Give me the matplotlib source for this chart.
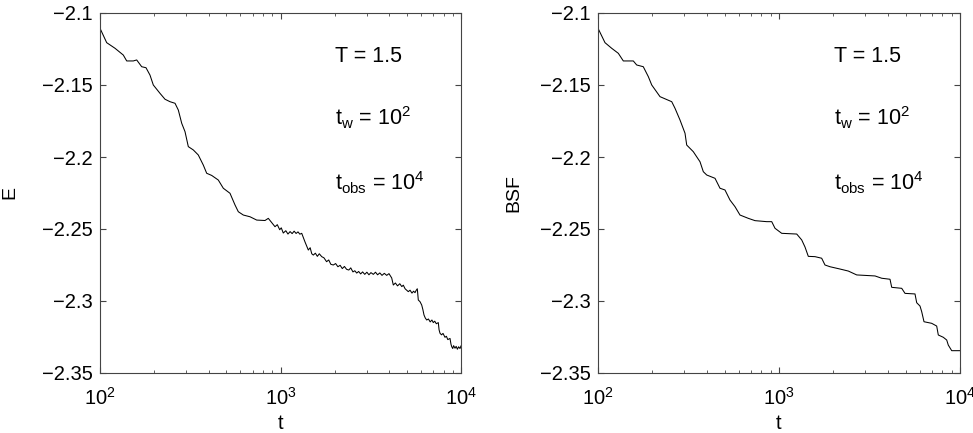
import matplotlib
matplotlib.use("Agg")
import matplotlib.pyplot as plt
from matplotlib.ticker import LogLocator, NullFormatter

plt.rcParams['font.family'] = ['Liberation Sans', 'DejaVu Sans']
plt.rcParams['mathtext.fontset'] = 'custom'
plt.rcParams['mathtext.rm'] = 'Liberation Sans'
plt.rcParams['mathtext.it'] = 'Liberation Sans'
plt.rcParams['mathtext.default'] = 'regular'

# energy E(t)
t_E = [100, 108.9, 121.1, 134.6, 140.6, 152.9, 159.7, 170.2, 179.8, 189.2, 197.4,
       215.0, 229.2, 244.3, 260.4, 271.6, 283.6, 295.8, 308.5, 328.8, 350.4,
       373.5, 390.0, 415.7, 452.3, 482.1, 525.1, 559.7, 583.8, 622.3, 677.6,
       738.2, 820.6, 855.9, 893.8, 932.2, 960, 990, 1010, 1036, 1070, 1100,
       1130, 1160, 1190, 1220, 1250, 1280, 1311, 1367, 1426, 1460, 1490, 1520,
       1560, 1600, 1640, 1692, 1740, 1800, 1850, 1900, 1961, 2020, 2080, 2140,
       2200, 2260, 2324, 2390, 2450, 2520, 2580, 2644, 2710, 2780, 2850, 2930,
       3010, 3090, 3170, 3267, 3360, 3450, 3550, 3650, 3760, 3876, 3990, 4131,
       4217, 4330, 4450, 4580, 4700, 4790, 4900, 5000, 5105, 5220, 5350, 5460,
       5563, 5650, 5727, 5800, 5930, 6058, 6150, 6237, 6340, 6457, 6600, 6750,
       6900, 7023, 7150, 7300, 7486, 7560, 7651, 7800, 7950, 8153, 8300, 8450,
       8692, 8800, 8882, 9000, 9100, 9265, 9400, 9550, 9700, 9874, 10000]
E = [-2.1106, -2.1206, -2.1245, -2.1292, -2.1333, -2.1333, -2.1326, -2.1373,
     -2.1380, -2.1431, -2.1500, -2.1558, -2.1599, -2.1616, -2.1627, -2.1674,
     -2.1766, -2.1824, -2.1928, -2.1951, -2.1986, -2.2056, -2.2113, -2.2128,
     -2.2160, -2.2217, -2.2252, -2.2333, -2.2380, -2.2403, -2.2415, -2.2438,
     -2.2441, -2.2426, -2.2456, -2.2484, -2.2470, -2.2505, -2.2492, -2.2528,
     -2.2512, -2.2535, -2.2518, -2.2532, -2.2515, -2.2531, -2.2520, -2.2536,
     -2.2530, -2.2590, -2.2646, -2.2630, -2.2672, -2.2681, -2.2668, -2.2690,
     -2.2672, -2.2692, -2.2700, -2.2727, -2.2715, -2.2745, -2.2750, -2.2740,
     -2.2762, -2.2752, -2.2775, -2.2760, -2.2780, -2.2785, -2.2770, -2.2798,
     -2.2790, -2.2806, -2.2795, -2.2812, -2.2798, -2.2815, -2.2800, -2.2818,
     -2.2803, -2.2815, -2.2800, -2.2818, -2.2805, -2.2822, -2.2808, -2.2822,
     -2.2810, -2.2840, -2.2889, -2.2875, -2.2895, -2.2880, -2.2900, -2.2890,
     -2.2915, -2.2925, -2.2935, -2.2925, -2.2945, -2.2932, -2.2942, -2.2925,
     -2.2915, -2.2993, -2.3005, -2.3028, -2.3060, -2.3097, -2.3118, -2.3132,
     -2.3125, -2.3145, -2.3132, -2.3150, -2.3140, -2.3158, -2.3150, -2.3200,
     -2.3224, -2.3235, -2.3225, -2.3252, -2.3245, -2.3268, -2.3260, -2.3300,
     -2.3317, -2.3330, -2.3310, -2.3328, -2.3315, -2.3335, -2.3318, -2.3330,
     -2.3312]

# best-so-far BSF(t)
t_B = [100, 109.3, 119.0, 129.5, 138.0, 156.7, 163.6, 177.9, 189.7, 198.1, 220.1,
       255.5, 266.4, 283.8, 302.5, 309.1, 336.1, 366.1, 381.8, 398.7, 443.1,
       472.1, 503.0, 536.1, 571.4, 608.8, 676.8, 737.1, 855.1, 911.6, 950.4,
       1035, 1253, 1335, 1392, 1452, 1581, 1721, 1795, 1913, 2173, 2415, 2688,
       3392, 3694, 4105, 4195, 4764, 4968, 5641, 5765, 6012, 6143, 6326, 6977,
       7434, 7588, 8086, 8445, 8615, 8999, 10000]
BSF = [-2.1106, -2.1206, -2.1245, -2.1280, -2.1333, -2.1333, -2.1361, -2.1373,
       -2.1442, -2.1500, -2.1581, -2.1616, -2.1662, -2.1743, -2.1835, -2.1917,
       -2.1963, -2.2033, -2.2102, -2.2125, -2.2148, -2.2217, -2.2229, -2.2299,
       -2.2345, -2.2403, -2.2426, -2.2442, -2.2449, -2.2449, -2.2495, -2.2530,
       -2.2535, -2.2576, -2.2625, -2.2690, -2.2692, -2.2703, -2.2750, -2.2762,
       -2.2778, -2.2792, -2.2819, -2.2826, -2.2842, -2.2849, -2.2905, -2.2912,
       -2.2947, -2.2951, -2.3012, -2.3035, -2.3074, -2.3144, -2.3155, -2.3174,
       -2.3236, -2.3252, -2.3271, -2.3306, -2.3345, -2.3345]

yticks = [-2.35, -2.3, -2.25, -2.2, -2.15, -2.1]
yticklabels = ['\u22122.35', '\u22122.3', '\u22122.25', '\u22122.2', '\u22122.15', '\u22122.1']
notes = ['T = 1.5', r'$t_{w}$ = 10$^{2}$', r'$t_{obs}$ = 10$^{4}$']

fig = plt.figure(figsize=(9.73, 4.33), dpi=100)
ax1 = fig.add_axes([100 / 973, 60 / 433, 361 / 973, 360 / 433])
ax2 = fig.add_axes([598 / 973, 60 / 433, 362 / 973, 360 / 433])

spine_col = '#444444'
for ax, t, y, lab, lx in [(ax1, t_E, E, 'E', -0.226), (ax2, t_B, BSF, 'BSF', -0.21)]:
    ax.plot(t, y, color='black', lw=0.75)
    ax.set_xscale('log')
    ax.set_xlim(100, 10000)
    ax.set_ylim(-2.35, -2.1)
    ax.set_yticks(yticks)
    ax.set_yticklabels(yticklabels)
    ax.xaxis.set_minor_locator(LogLocator(base=10, subs=range(2, 10)))
    ax.xaxis.set_minor_formatter(NullFormatter())
    ax.tick_params(which='both', direction='in', top=True, right=True,
                   labelsize=14.5, color=spine_col)
    ax.tick_params(which='major', length=4)
    ax.tick_params(which='minor', length=2.2)
    ax.tick_params(axis='y', pad=5)
    ax.tick_params(axis='x', pad=10)
    for s in ax.spines.values():
        s.set_color(spine_col)
        s.set_linewidth(0.8)
    ax.set_xlabel('t', fontsize=14.5)
    ax.set_ylabel(lab, fontsize=14)
    ax.xaxis.set_label_coords(0.5, -0.115)
    ax.yaxis.set_label_coords(lx, 0.5)
    for txt, yy in zip(notes, [0.865, 0.689, 0.508]):
        ax.text(0.651, yy, txt, transform=ax.transAxes, fontsize=15.5,
                va='baseline', ha='left')

fig.savefig('out.png', dpi=100)
